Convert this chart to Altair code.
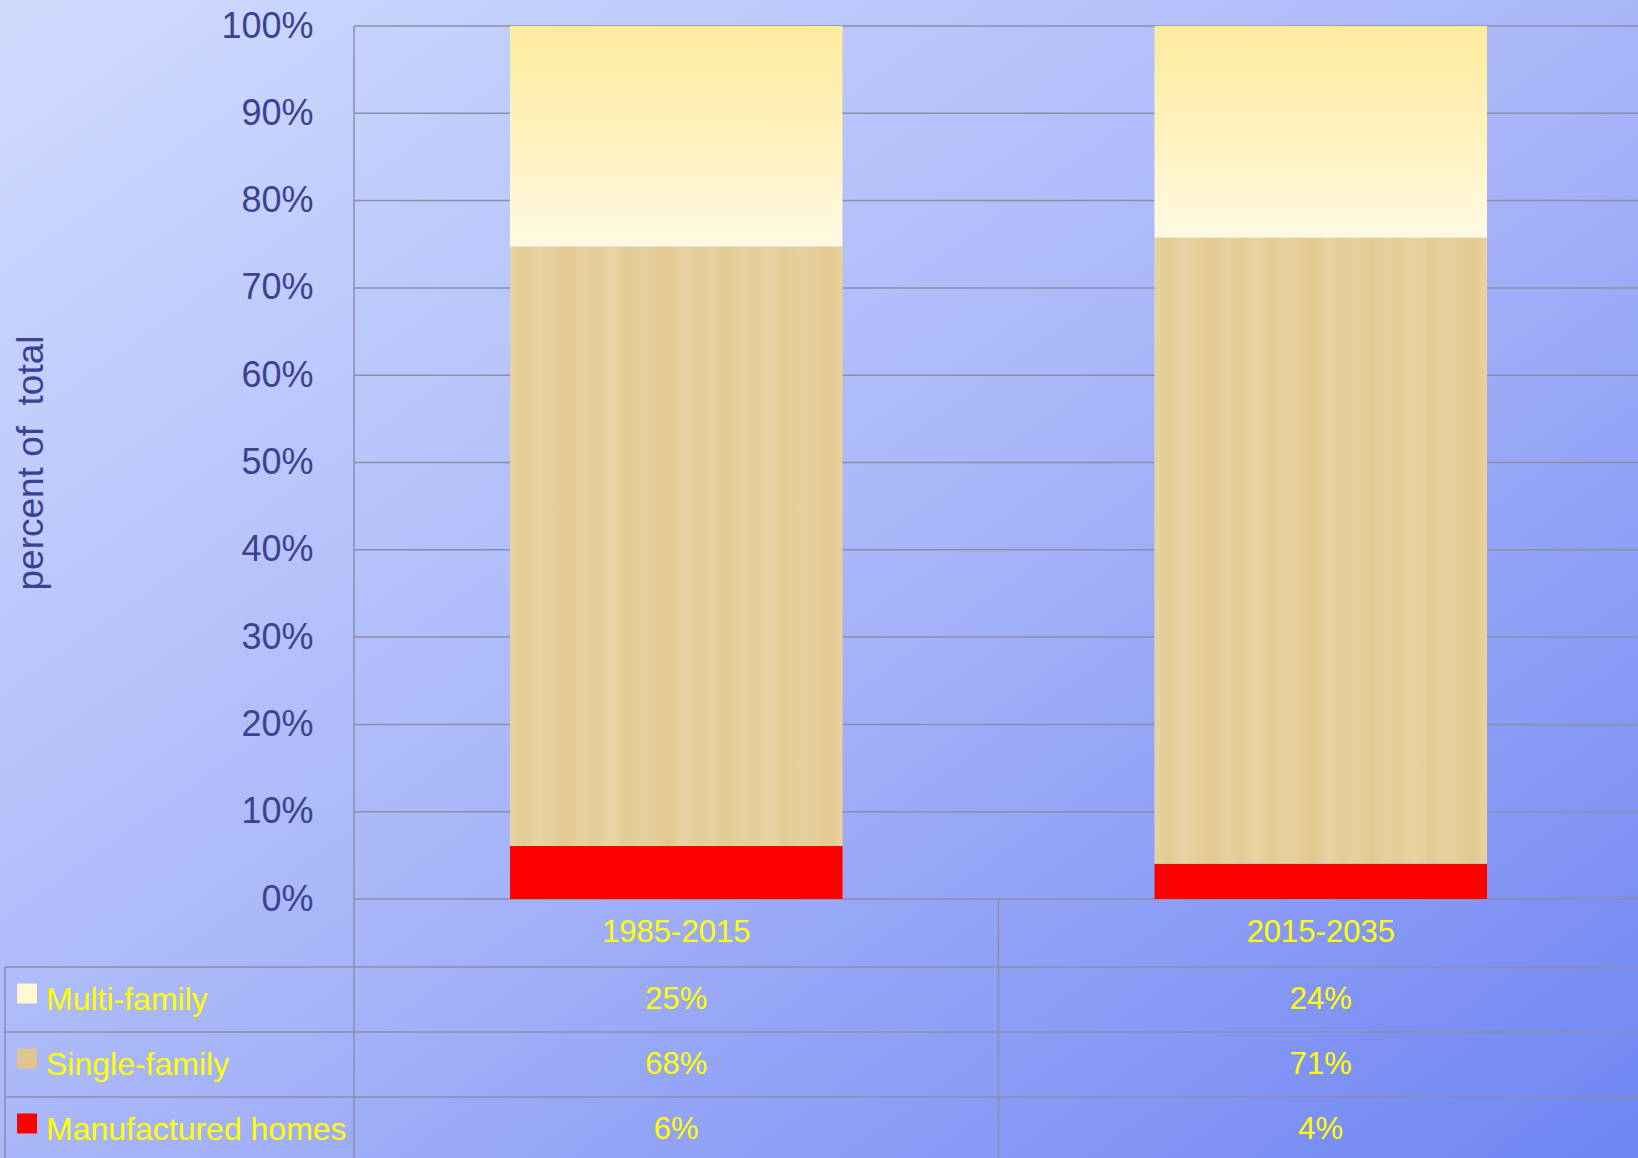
import altair as alt
import pandas as pd

# ---------------- data ----------------
periods = ["1985-2015", "2015-2035"]
series = ["Multi-family", "Single-family", "Manufactured homes"]
multi_family = [25, 24]
single_family = [68, 71]
manufactured = [6, 4]
y_ticks = [0.0, 0.1, 0.2, 0.3, 0.4, 0.5, 0.6, 0.7, 0.8, 0.9, 1.0]

series_values = {
    "Multi-family": multi_family,
    "Single-family": single_family,
    "Manufactured homes": manufactured,
}
stack_order = {"Manufactured homes": 0, "Single-family": 1, "Multi-family": 2}

rows = []
for s in series:
    for p, v in zip(periods, series_values[s]):
        rows.append({"period": p, "series": s, "value": v, "order": stack_order[s]})
df = pd.DataFrame(rows)
legend_df = pd.DataFrame({"series": series})
period_df = pd.DataFrame({"period": periods})
tick_df = pd.DataFrame({"t": y_ticks})

# ---------------- styling ----------------
FONT = "Liberation Sans"
YELLOW = "#ffff00"
LABEL_C = "#3d4191"
LINE_C = "#8b8ea9"
CANVAS_W, CANVAS_H = 1638, 1158
PAD_L, PAD_T = 354, 26
W, H = CANVAS_W - PAD_L, 873
X_RANGE = 1289          # the original plot runs a few pixels past the image edge
TABLE_LEFT = -349
ROW_TOP, ROW_BOTTOM = 941, 1136
HEADER_Y = 907

x_scale = alt.Scale(domain=periods, range=[0, X_RANGE], paddingInner=0.484, paddingOuter=0.242)
y_scale = alt.Scale(domain=[0, 1], nice=False)
row_scale = alt.Scale(domain=series, range=[ROW_TOP, ROW_BOTTOM], paddingInner=0, paddingOuter=0)

one = alt.Data(values=[{}])

bg = alt.Chart(one).mark_rect(
    color=alt.LinearGradient(
        gradient="linear", x1=0, y1=0, x2=1, y2=1,
        stops=[
            alt.GradientStop(color="#d0dcfd", offset=0),
            alt.GradientStop(color="#a9b7f9", offset=0.5),
            alt.GradientStop(color="#6f85f3", offset=1),
        ],
    )
).encode(
    x=alt.value(-PAD_L), x2=alt.value(CANVAS_W - PAD_L),
    y=alt.value(-PAD_T), y2=alt.value(CANVAS_H - PAD_T),
)

grid = alt.Chart(tick_df).mark_rule(color=LINE_C, strokeWidth=1.5).encode(
    y=alt.Y("t:Q", scale=y_scale, axis=None),
    x=alt.value(0), x2=alt.value(W),
)

vline_axis = alt.Chart(one).mark_rule(color=LINE_C, strokeWidth=1.5).encode(
    x=alt.value(0), y=alt.value(0), y2=alt.value(CANVAS_H - PAD_T))
vline_left = alt.Chart(one).mark_rule(color=LINE_C, strokeWidth=1.5).encode(
    x=alt.value(TABLE_LEFT), y=alt.value(ROW_TOP), y2=alt.value(CANVAS_H - PAD_T))
vline_mid = alt.Chart(one).mark_rule(color=LINE_C, strokeWidth=1.5).encode(
    x=alt.value(X_RANGE / 2), y=alt.value(H), y2=alt.value(CANVAS_H - PAD_T))

row_lines = alt.Chart(legend_df).mark_rule(color=LINE_C, strokeWidth=1.5).encode(
    y=alt.Y("series:N", scale=row_scale, axis=None, bandPosition=0),
    x=alt.value(TABLE_LEFT), x2=alt.value(W),
)

base = alt.Chart(df).transform_stack(
    stack="value", groupby=["period"], as_=["y0", "y1"], offset="normalize",
    sort=[alt.SortField("order", order="ascending")],
)

y_axis = alt.Axis(
    orient="left", values=y_ticks, format=".0%", grid=False, domain=False,
    ticks=False, tickSize=0, labelPadding=41, labelFontSize=36,
    labelColor=LABEL_C, labelFont=FONT, labelBaseline="middle",
    title="percent of\u00a0 total", titleFontSize=37, titleFontWeight="normal",
    titleColor=LABEL_C, titleFont=FONT, titleAngle=270, titleX=-312,
    titleY=H / 2, titleAlign="center", titleBaseline="alphabetic", zindex=1,
)

# papyrus-like streaks for the single-family fill
papyrus = ["#e8d29f", "#e4cb94", "#e9d4a2", "#e6ce99", "#e3c991", "#e8d19e",
           "#e5cc96", "#ead5a3", "#e4ca93", "#e7cf9b", "#e6cd98", "#e2c890",
           "#e9d3a1", "#e5cc97", "#e8d09d", "#e3ca92", "#e7d09c", "#e5cd97",
           "#e9d4a2", "#e4cb95", "#e7cf9b", "#e6ce99", "#e3c991", "#e8d29f"]
fills = {
    "Manufactured homes": "#ff0000",
    "Single-family": alt.LinearGradient(
        gradient="linear", x1=0, y1=0, x2=1, y2=0,
        stops=[alt.GradientStop(color=c, offset=i / (len(papyrus) - 1)) for i, c in enumerate(papyrus)],
    ),
    "Multi-family": alt.LinearGradient(
        gradient="linear", x1=0, y1=0, x2=0, y2=1,
        stops=[
            alt.GradientStop(color="#fdeb9d", offset=0),
            alt.GradientStop(color="#fff3c4", offset=0.6),
            alt.GradientStop(color="#fff9e3", offset=1),
        ],
    ),
}

bar_layers = []
for i, s in enumerate(["Manufactured homes", "Single-family", "Multi-family"]):
    bar_layers.append(
        base.transform_filter(alt.datum.series == s).mark_bar(color=fills[s]).encode(
            x=alt.X("period:N", scale=x_scale, axis=None),
            y=alt.Y("y0:Q", scale=y_scale, axis=y_axis if i == 0 else None),
            y2="y1:Q",
        )
    )

header_text = alt.Chart(period_df).mark_text(
    fontSize=31, color=YELLOW, font=FONT, baseline="middle"
).encode(
    x=alt.X("period:N", scale=x_scale, axis=None),
    y=alt.value(HEADER_Y),
    text="period:N",
)

table_text = alt.Chart(df).transform_calculate(label="datum.value + '%'").mark_text(
    fontSize=31, color=YELLOW, font=FONT, baseline="middle"
).encode(
    x=alt.X("period:N", scale=x_scale, axis=None),
    y=alt.Y("series:N", scale=row_scale, axis=None),
    text="label:N",
)

legend_text = alt.Chart(legend_df).mark_text(
    align="left", baseline="middle", fontSize=32, color=YELLOW, font=FONT
).encode(
    x=alt.value(-308),
    y=alt.Y("series:N", scale=row_scale, axis=None),
    text="series:N",
)

swatches = alt.Chart(legend_df).mark_square(size=400, filled=True, opacity=1, yOffset=-6).encode(
    x=alt.value(-327),
    y=alt.Y("series:N", scale=row_scale, axis=None),
    color=alt.Color("series:N", scale=alt.Scale(domain=series, range=["#fff6d2", "#dfc58e", "#ff0000"]), legend=None),
)

chart = alt.layer(
    bg, grid, vline_axis, vline_left, vline_mid, row_lines,
    *bar_layers, header_text, table_text, legend_text, swatches,
).resolve_scale(y="independent").properties(
    width=W, height=H,
    padding={"left": PAD_L, "top": PAD_T, "right": 0, "bottom": CANVAS_H - PAD_T - H},
    autosize=alt.AutoSizeParams(type="none"),
).configure_view(stroke=None).configure(background="#a9b7f9")

chart.save("out.html", embed_options={"renderer": "svg", "actions": False})
